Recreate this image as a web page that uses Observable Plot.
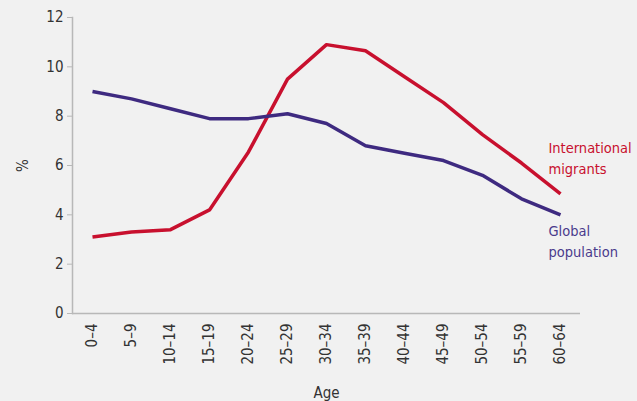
<!DOCTYPE html>
<html>
<head>
<meta charset="utf-8">
<script src="https://cdn.jsdelivr.net/npm/d3@7"></script>
<script src="https://cdn.jsdelivr.net/npm/@observablehq/plot@0.6"></script>
<style>
  html, body { margin: 0; padding: 0; background: #f1f1f1; }
  #chart svg { display: block; background: #f1f1f1; }
</style>
</head>
<body>
<div id="chart"></div>
<script>
const ages = ["0–4","5–9","10–14","15–19","20–24","25–29","30–34","35–39","40–44","45–49","50–54","55–59","60–64"];
const migrants = [3.1, 3.3, 3.4, 4.2, 6.55, 9.5, 10.9, 10.65, 9.6, 8.55, 7.25, 6.1, 4.85];
const globalPop = [9.0, 8.7, 8.3, 7.9, 7.9, 8.1, 7.7, 6.8, 6.5, 6.2, 5.6, 4.65, 4.0];
const yTicks = [0, 2, 4, 6, 8, 10, 12];
const seriesNames = ["International migrants", "Global population"];
const seriesLabels = ["International\nmigrants", "Global\npopulation"];

const red = "#c8102e";
const purple = "#3e2a80";

const rows = [];
ages.forEach((a, i) => {
  rows.push({age: a, value: migrants[i], series: seriesNames[0]});
  rows.push({age: a, value: globalPop[i], series: seriesNames[1]});
});
const last = ages.length - 1;
const redLabel = [{age: ages[last], value: migrants[last], text: seriesLabels[0]}];
const purpleLabel = [{age: ages[last], value: globalPop[last], text: seriesLabels[1]}];

const font = "'Liberation Sans Narrow', 'DejaVu Sans Condensed', 'Roboto Condensed', sans-serif";

const chart = Plot.plot({
  width: 637,
  height: 401,
  marginLeft: 72,
  marginRight: 57,
  marginTop: 17,
  marginBottom: 88,
  style: {background: "#f1f1f1", fontFamily: font, fontSize: "15px", color: "#333", overflow: "visible"},
  x: {type: "point", domain: ages, padding: 0.5},
  y: {domain: [0, 12]},
  color: {domain: seriesNames, range: [red, purple]},
  marks: [
    Plot.frame({anchor: "left", stroke: "#b8b8b8", strokeWidth: 1.5}),
    Plot.ruleY([0], {stroke: "#b8b8b8", strokeWidth: 1.5}),
    Plot.axisY({ticks: yTicks, tickSize: 5, tickPadding: 4, stroke: "#b8b8b8", fontSize: 15, fill: "#333",
      label: "%", labelAnchor: "center", labelOffset: 55, labelArrow: "none"}),
    Plot.axisX({tickSize: 0, tickRotate: -90, tickPadding: 10, fontSize: 15, fill: "#333",
      label: "Age", labelAnchor: "center", labelOffset: 84, labelArrow: "none"}),
    Plot.line(rows, {x: "age", y: "value", z: "series", stroke: "series", strokeWidth: 3.5,
      strokeLinejoin: "round", strokeLinecap: "butt"}),
    Plot.text(redLabel, {x: "age", y: "value", text: "text", fill: red, dx: -12, dy: -37,
      textAnchor: "start", lineHeight: 1.45, fontSize: 14.5}),
    Plot.text(purpleLabel, {x: "age", y: "value", text: "text", fill: "#4a3a8c", dx: -12, dy: 25,
      textAnchor: "start", lineHeight: 1.45, fontSize: 14.5})
  ]
});
document.getElementById("chart").appendChild(chart);
</script>
</body>
</html>
